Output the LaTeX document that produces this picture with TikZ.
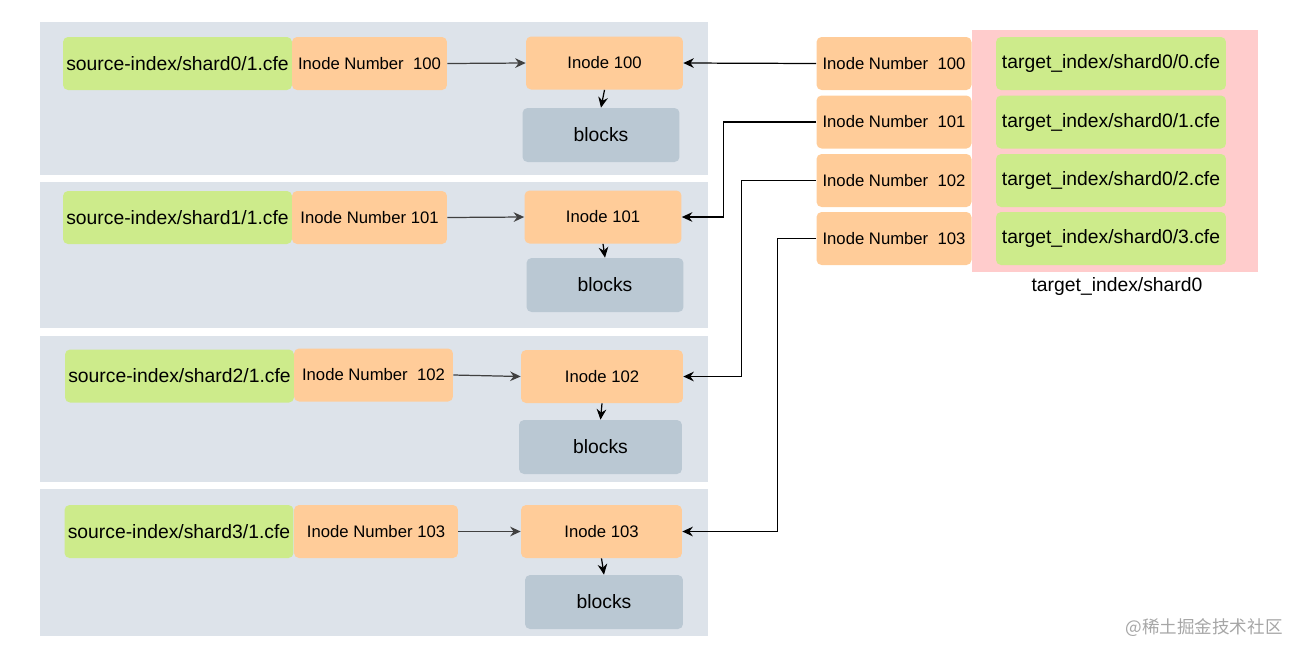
\documentclass[tikz,border=0pt]{standalone}
\usepackage{fontspec}
\setmainfont{Liberation Sans}
\newfontfamily\cjkfont{Noto Sans CJK SC}
\usetikzlibrary{arrows.meta}
\definecolor{panelgray}{HTML}{DDE3EA}
\definecolor{filegreen}{HTML}{CDEB8B}
\definecolor{inodeorange}{HTML}{FFCC99}
\definecolor{blockgray}{HTML}{BAC8D3}
\definecolor{targetpink}{HTML}{FFCCCC}
\newcommand{\inodenumlabel}[1]{Inode Number\ \ #1}

\begin{document}
\begin{tikzpicture}[x = 0.02cm, y = -0.02cm,
    every node/.style = {inner sep = 0pt, rounded corners = 0.1cm, font = \fontsize{9.5}{11}\selectfont},
    file/.style = {fill = filegreen, minimum width = 4.58cm, minimum height = 1.06cm, font = \fontsize{11}{13}\selectfont},
    num/.style = {fill = inodeorange, minimum width = 3.1cm, minimum height = 1.06cm},
    inode/.style = {fill = inodeorange, minimum width = 3.14cm, minimum height = 1.06cm},
    blk/.style = {fill = blockgray, minimum width = 3.14cm, minimum height = 1.08cm, font = \fontsize{11}{13}\selectfont},
    conn/.style = {draw = black!75, line width = 0.7pt, -{Stealth[length = 6pt, width = 5.5pt, inset = 2pt]}}]

	\useasboundingbox (0,0) rectangle (1304,657);

	% shard panels
	\foreach \top/\bot in {22/175, 182/328, 336/482, 489/636}
		\fill[panelgray] (40,\top) rectangle (708,\bot);
	\fill[targetpink] (972,30) rectangle (1258,272);

	\node (src0) at (177.5, 63.5) [file] {source-index/shard0/1.cfe};
	\node (num0) at (369.5, 63.5) [num] {\inodenumlabel{100}};
	\node (ino0) at (604.5, 63)   [inode] {Inode 100};
	\node (blk0) at (601, 135)    [blk] {blocks};

	\node (src1) at (177.5, 217.5) [file] {source-index/shard1/1.cfe};
	\node (num1) at (369.5, 217.5) [num] {Inode Number 101};
	\node (ino1) at (603, 217)     [inode] {Inode 101};
	\node (blk1) at (605, 285)     [blk] {blocks};

	\node (src2) at (179.5, 376) [file] {source-index/shard2/1.cfe};
	\node (num2) at (373.5, 375) [num, minimum width = 3.18cm] {\inodenumlabel{102}};
	\node (ino2) at (602, 376.5) [inode, minimum width = 3.24cm] {Inode 102};
	\node (blk2) at (600.5, 447) [blk, minimum width = 3.26cm] {blocks};

	\node (src3) at (179, 531.5)   [file] {source-index/shard3/1.cfe};
	\node (num3) at (376, 531.5)   [num, minimum width = 3.28cm] {Inode Number 103};
	\node (ino3) at (601.5, 531.5) [inode, minimum width = 3.22cm] {Inode 103};
	\node (blk3) at (604, 602)     [blk, minimum width = 3.16cm] {blocks};

	\node (tnum0) at (894, 63.5)  [num] {\inodenumlabel{100}};
	\node (tnum1) at (894, 122)   [num] {\inodenumlabel{101}};
	\node (tnum2) at (894, 180.5) [num] {\inodenumlabel{102}};
	\node (tnum3) at (894, 238.5) [num] {\inodenumlabel{103}};

	\node (tgt0) at (1111, 63.5)  [file, minimum width = 4.6cm] {target\_index/shard0/0.cfe};
	\node (tgt1) at (1111, 122)   [file, minimum width = 4.6cm] {target\_index/shard0/1.cfe};
	\node (tgt2) at (1111, 180.5) [file, minimum width = 4.6cm] {target\_index/shard0/2.cfe};
	\node (tgt3) at (1111, 238.5) [file, minimum width = 4.6cm] {target\_index/shard0/3.cfe};

	\node (tlabel) at (1117, 286) [font = \fontsize{11}{13}\selectfont] {target\_index/shard0};
	\node (mark) at (1204, 628) [text = black!35, font = \cjkfont\fontsize{10}{12}\selectfont] {@稀土掘金技术社区};

	\foreach \i in {0,...,3} {
		\draw[conn] (num\i.east) -- (ino\i.west);
		\draw[conn, draw = black] (ino\i.south) -- (blk\i.north);
	}
	\draw[conn, draw = black] (tnum0.west) -- (ino0.east);
	\foreach \from/\dx/\to in {tnum1/93/ino1, tnum2/75/ino2, tnum3/39/ino3}
		\draw[conn, draw = black] (\from.west) -- ++(-\dx,0) |- (\to.east);
\end{tikzpicture}
\end{document}
